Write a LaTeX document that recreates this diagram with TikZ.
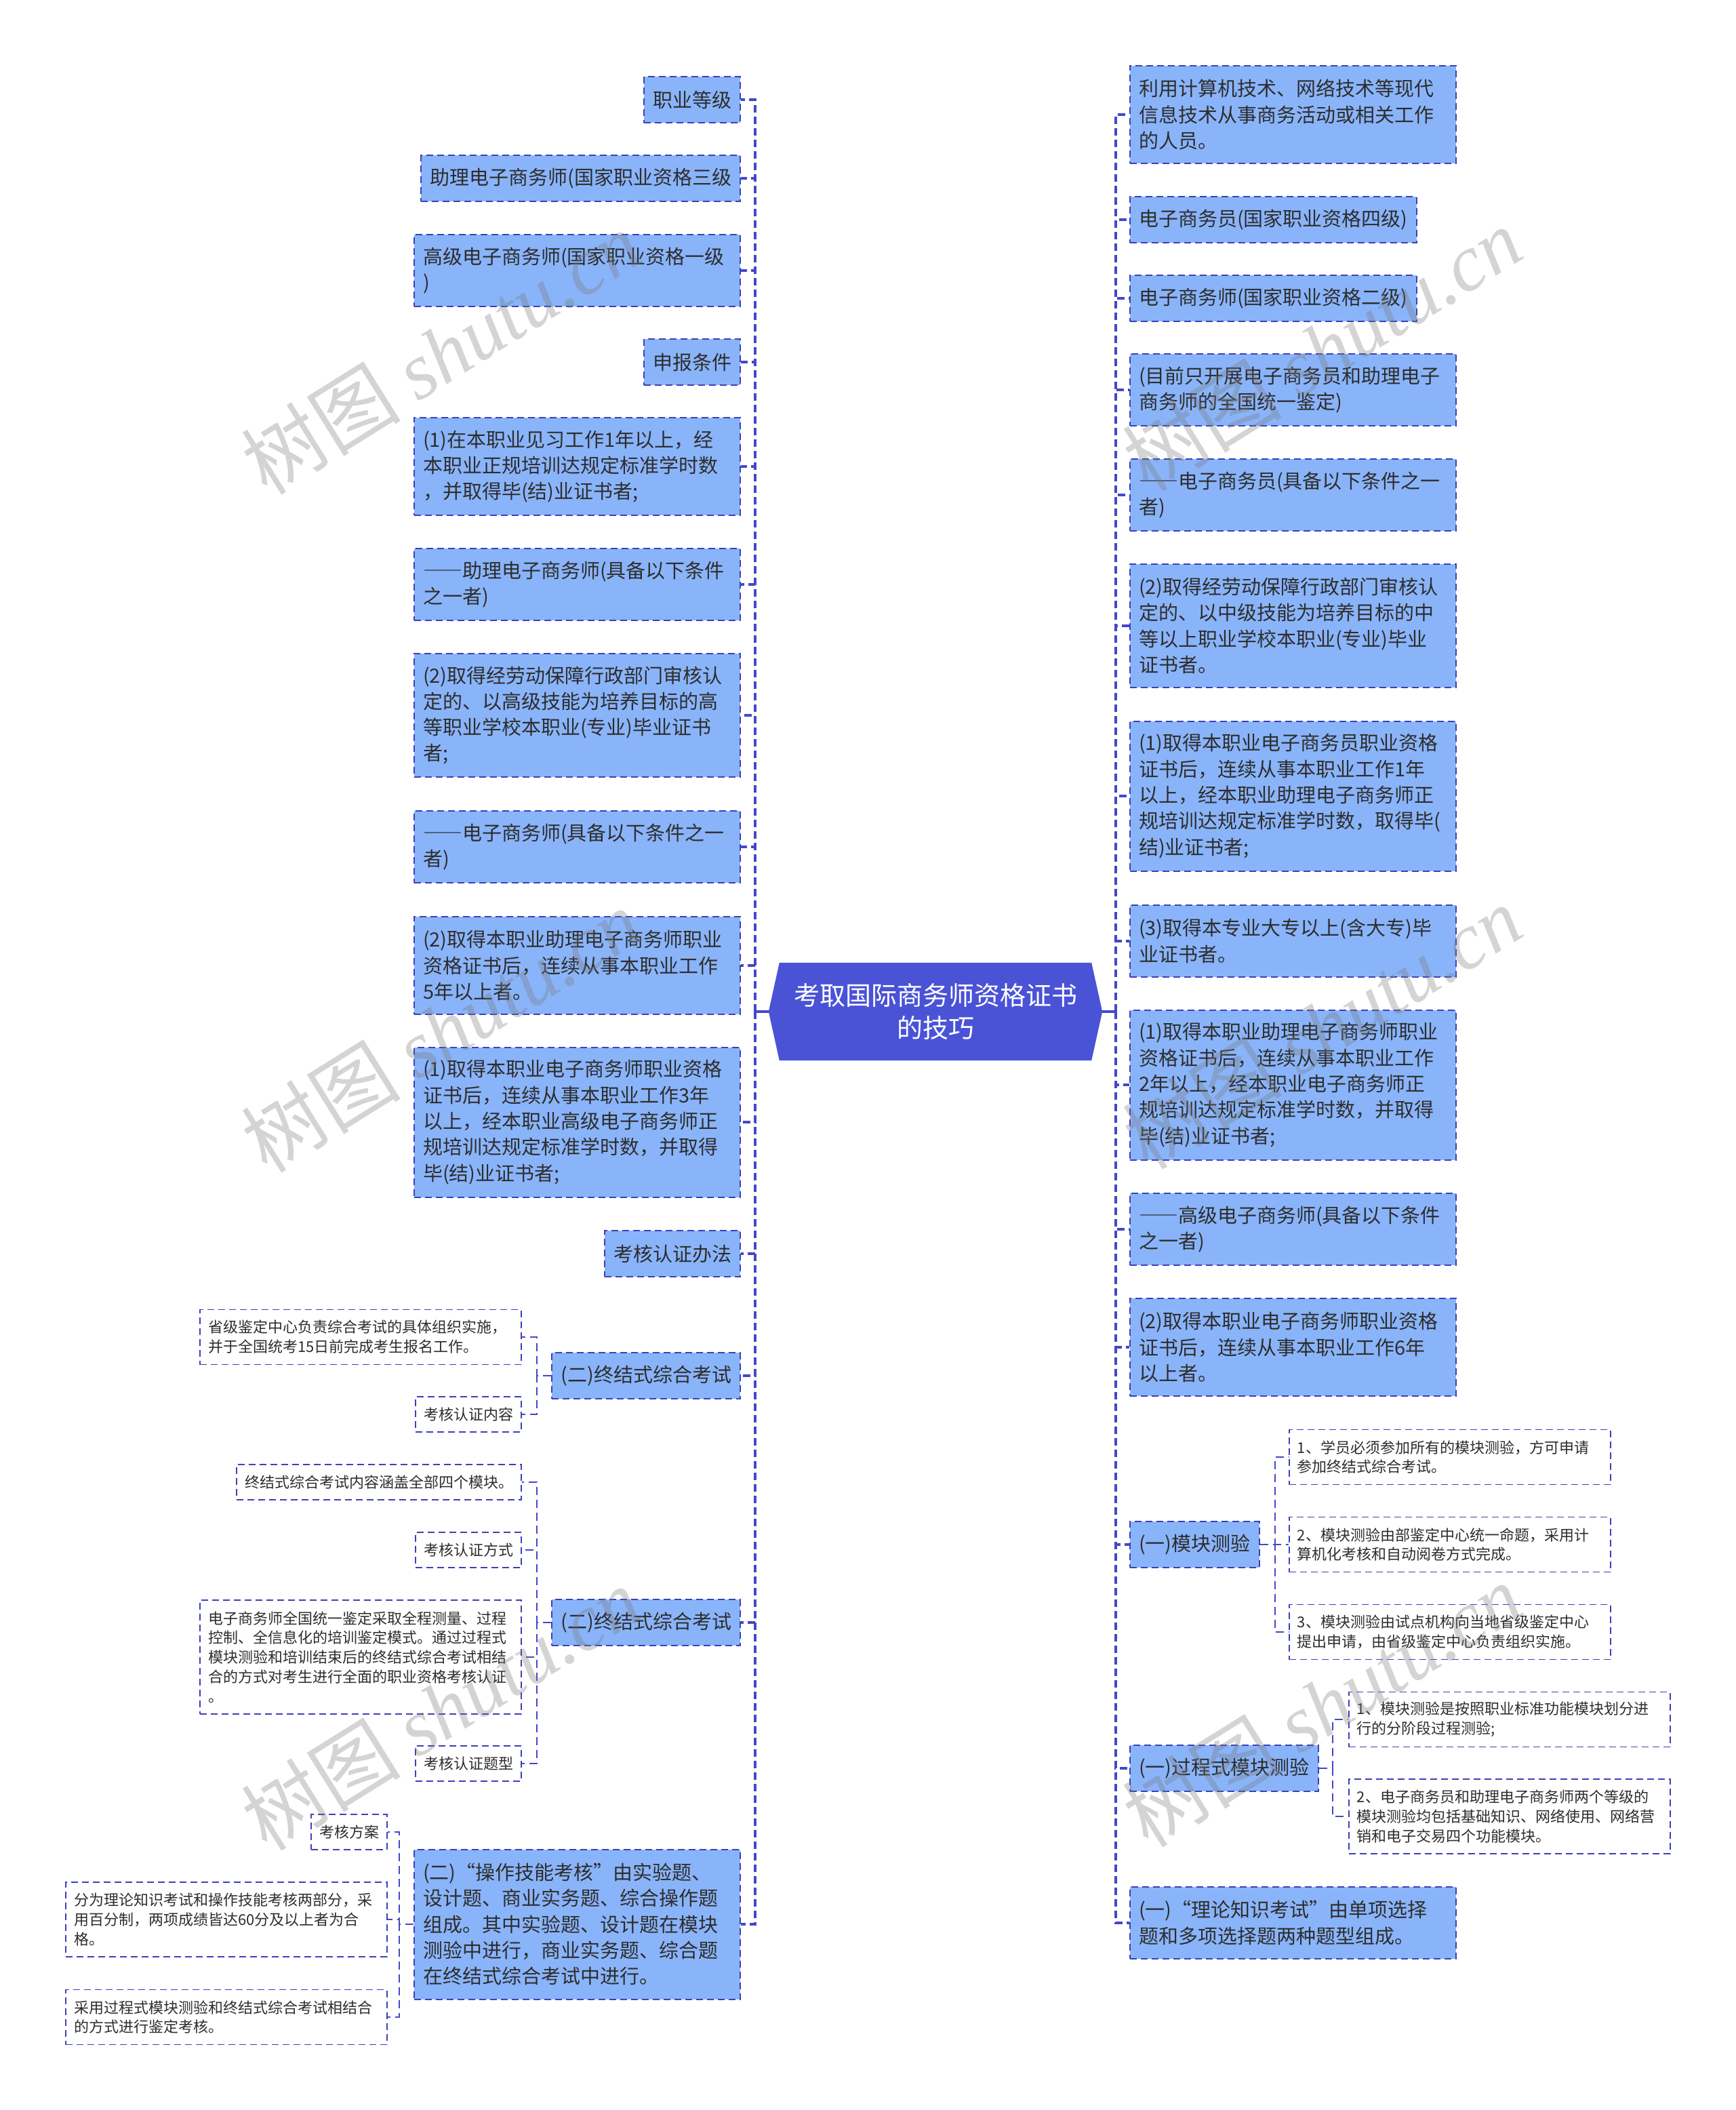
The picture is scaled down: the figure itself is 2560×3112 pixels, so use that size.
\documentclass[tikz,border=0pt]{standalone}
\usepackage{fontspec}
\setmainfont{Noto Sans CJK SC}
\newfontfamily\wmserif{Liberation Serif}
\newfontfamily\fwfont[RawFeature=+fwid]{Noto Sans CJK SC}
\newcommand\dd{{\fwfont ——}}
\usetikzlibrary{backgrounds}
\definecolor{boxfill}{HTML}{8AB4F9}
\definecolor{bordercol}{HTML}{3C40B8}
\definecolor{conncol}{HTML}{4348C9}
\definecolor{rootfill}{HTML}{4A53D6}
\definecolor{textcol}{HTML}{2D2D2D}
\definecolor{wmcol}{RGB}{120,120,120}
\begin{document}
\begin{tikzpicture}[x=1pt,y=-1pt,
  mainbox/.style={draw=bordercol, line width=2pt, dash pattern=on 10pt off 6pt, fill=boxfill, text=textcol,
    font=\fontsize{29pt}{38.3pt}\selectfont, inner xsep=13pt, inner ysep=0pt, align=left},
  nl/.style={minimum height={(29.5+38.3*#1)*1pt}},
  wide/.style={text width=455pt},
  subbox/.style={draw=bordercol, line width=1.8pt, dash pattern=on 10pt off 6pt, fill=white, text=textcol,
    font=\fontsize{22pt}{28.8pt}\selectfont, inner xsep=12pt, inner ysep=0pt, align=left},
  snl/.style={minimum height={(23+29*#1)*1pt}},
  swide/.style={text width=450pt},
  rootnode/.style={minimum width=460pt, minimum height=144pt, inner sep=0pt, text=white, align=center,
    font=\fontsize{38pt}{48pt}\selectfont},
  conn/.style={draw=conncol, line width=3.5pt, dash pattern=on 11pt off 6pt},
  rootconn/.style={draw=conncol, line width=3.5pt},
  subconn/.style={draw=conncol, line width=2pt, dash pattern=on 12pt off 7pt},
  wm/.style={text=wmcol, text opacity=0.32, font=\fontsize{118pt}{118pt}\selectfont, inner sep=0pt}
]
\useasboundingbox (0,0) rectangle (2560,3112);

% root
\node[rootnode] (root) at (1380,1492) {考取国际商务师资格证书\\的技巧};
\begin{scope}[on background layer]
\fill[rootfill] ([xshift=-16pt]root.west) -- (root.north west) -- (root.north east) -- ([xshift=16pt]root.east) -- (root.south east) -- (root.south west) -- cycle;
\end{scope}
\coordinate (rootL) at ([xshift=-16pt]root.west);
\coordinate (rootR) at ([xshift=16pt]root.east);
\coordinate (LS) at (1114,1492);
\coordinate (RS) at (1646,1492);

% left column
\node[mainbox, anchor=east, nl=1] (L1) at (1093,147) {职业等级};
\node[mainbox, anchor=east, nl=1] (L2) at (1093,263) {助理电子商务师(国家职业资格三级};
\node[mainbox, anchor=east, nl=2, wide] (L3) at (1093,399) {高级电子商务师(国家职业资格一级\\)};
\node[mainbox, anchor=east, nl=1] (L4) at (1093,534) {申报条件};
\node[mainbox, anchor=east, nl=3, wide] (L5) at (1093,688) {(1)在本职业见习工作1年以上，经\\本职业正规培训达规定标准学时数\\，并取得毕(结)业证书者;};
\node[mainbox, anchor=east, nl=2, wide] (L6) at (1093,862) {\dd 助理电子商务师(具备以下条件\\之一者)};
\node[mainbox, anchor=east, nl=4, wide] (L7) at (1093,1055) {(2)取得经劳动保障行政部门审核认\\定的、以高级技能为培养目标的高\\等职业学校本职业(专业)毕业证书\\者;};
\node[mainbox, anchor=east, nl=2, wide] (L8) at (1093,1249) {\dd 电子商务师(具备以下条件之一\\者)};
\node[mainbox, anchor=east, nl=3, wide] (L9) at (1093,1424) {(2)取得本职业助理电子商务师职业\\资格证书后，连续从事本职业工作\\5年以上者。};
\node[mainbox, anchor=east, nl=5, wide] (L10) at (1093,1655) {(1)取得本职业电子商务师职业资格\\证书后，连续从事本职业工作3年\\以上，经本职业高级电子商务师正\\规培训达规定标准学时数，并取得\\毕(结)业证书者;};
\node[mainbox, anchor=east, nl=1] (L11) at (1093,1849) {考核认证办法};
\node[mainbox, anchor=east, nl=1] (L12) at (1093,2029) {(二)终结式综合考试};
\node[mainbox, anchor=east, nl=1] (L13) at (1093,2393) {(二)终结式综合考试};
\node[mainbox, anchor=east, nl=5, wide] (L14) at (1093,2838) {(二)“操作技能考核”由实验题、\\设计题、商业实务题、综合操作题\\组成。其中实验题、设计题在模块\\测验中进行，商业实务题、综合题\\在终结式综合考试中进行。};

% right column
\node[mainbox, anchor=west, nl=3, wide] (R1) at (1666,169) {利用计算机技术、网络技术等现代\\信息技术从事商务活动或相关工作\\的人员。};
\node[mainbox, anchor=west, nl=1] (R2) at (1666,324) {电子商务员(国家职业资格四级)};
\node[mainbox, anchor=west, nl=1] (R3) at (1666,440) {电子商务师(国家职业资格二级)};
\node[mainbox, anchor=west, nl=2, wide] (R4) at (1666,575) {(目前只开展电子商务员和助理电子\\商务师的全国统一鉴定)};
\node[mainbox, anchor=west, nl=2, wide] (R5) at (1666,730) {\dd 电子商务员(具备以下条件之一\\者)};
\node[mainbox, anchor=west, nl=4, wide] (R6) at (1666,923) {(2)取得经劳动保障行政部门审核认\\定的、以中级技能为培养目标的中\\等以上职业学校本职业(专业)毕业\\证书者。};
\node[mainbox, anchor=west, nl=5, wide] (R7) at (1666,1174) {(1)取得本职业电子商务员职业资格\\证书后，连续从事本职业工作1年\\以上，经本职业助理电子商务师正\\规培训达规定标准学时数，取得毕(\\结)业证书者;};
\node[mainbox, anchor=west, nl=2, wide] (R8) at (1666,1388) {(3)取得本专业大专以上(含大专)毕\\业证书者。};
\node[mainbox, anchor=west, nl=5, wide] (R9) at (1666,1600) {(1)取得本职业助理电子商务师职业\\资格证书后，连续从事本职业工作\\2年以上，经本职业电子商务师正\\规培训达规定标准学时数，并取得\\毕(结)业证书者;};
\node[mainbox, anchor=west, nl=2, wide] (R10) at (1666,1813) {\dd 高级电子商务师(具备以下条件\\之一者)};
\node[mainbox, anchor=west, nl=3, wide] (R11) at (1666,1987) {(2)取得本职业电子商务师职业资格\\证书后，连续从事本职业工作6年\\以上者。};
\node[mainbox, anchor=west, nl=1] (R12) at (1666,2278) {(一)模块测验};
\node[mainbox, anchor=west, nl=1] (R13) at (1666,2608) {(一)过程式模块测验};
\node[mainbox, anchor=west, nl=2, wide] (R14) at (1666,2836) {(一)“理论知识考试”由单项选择\\题和多项选择题两种题型组成。};

% sub children left
\node[subbox, anchor=east, snl=2, swide] (A1) at (770,1972) {省级鉴定中心负责综合考试的具体组织实施，\\并于全国统考15日前完成考生报名工作。};
\node[subbox, anchor=east, snl=1] (A2) at (770,2086) {考核认证内容};
\node[subbox, anchor=east, snl=1] (B1) at (770,2186) {终结式综合考试内容涵盖全部四个模块。};
\node[subbox, anchor=east, snl=1] (B2) at (770,2286) {考核认证方式};
\node[subbox, anchor=east, snl=5, swide] (B3) at (770,2444) {电子商务师全国统一鉴定采取全程测量、过程\\控制、全信息化的培训鉴定模式。通过过程式\\模块测验和培训结束后的终结式综合考试相结\\合的方式对考生进行全面的职业资格考核认证\\。};
\node[subbox, anchor=east, snl=1] (B4) at (770,2601) {考核认证题型};
\node[subbox, anchor=east, snl=1] (C1) at (572,2702) {考核方案};
\node[subbox, anchor=east, snl=3, swide] (C2) at (572,2831) {分为理论知识考试和操作技能考核两部分，采\\用百分制，两项成绩皆达60分及以上者为合\\格。};
\node[subbox, anchor=east, snl=2, swide] (C3) at (572,2975) {采用过程式模块测验和终结式综合考试相结合\\的方式进行鉴定考核。};

% sub children right
\node[subbox, anchor=west, snl=2, swide] (D1) at (1901,2149) {1、学员必须参加所有的模块测验，方可申请\\参加终结式综合考试。};
\node[subbox, anchor=west, snl=2, swide] (D2) at (1901,2278) {2、模块测验由部鉴定中心统一命题，采用计\\算机化考核和自动阅卷方式完成。};
\node[subbox, anchor=west, snl=2, swide] (D3) at (1901,2407) {3、模块测验由试点机构向当地省级鉴定中心\\提出申请，由省级鉴定中心负责组织实施。};
\node[subbox, anchor=west, snl=2, swide] (E1) at (1989,2536) {1、模块测验是按照职业标准功能模块划分进\\行的分阶段过程测验;};
\node[subbox, anchor=west, snl=3, swide] (E2) at (1989,2679) {2、电子商务员和助理电子商务师两个等级的\\模块测验均包括基础知识、网络使用、网络营\\销和电子交易四个功能模块。};

% connectors
\draw[rootconn] (rootL) -- (LS);
\draw[rootconn] (rootR) -- (RS);
\foreach \n in {L1,L2,L3,L4,L5,L6,L7,L8,L9,L10,L11,L12,L13,L14}
  \draw[conn] (LS) |- (\n.east);
\foreach \n in {R1,R2,R3,R4,R5,R6,R7,R8,R9,R10,R11,R12,R13,R14}
  \draw[conn] (RS) |- (\n.west);
\foreach \c in {A1,A2}
  \draw[subconn] (L12.west) -- ++(-21,0) |- (\c.east);
\foreach \c in {B1,B2,B3,B4}
  \draw[subconn] (L13.west) -- ++(-21,0) |- (\c.east);
\foreach \c in {C1,C2,C3}
  \draw[subconn] (L14.west) -- ++(-21,0) |- (\c.east);
\foreach \c in {D1,D2,D3}
  \draw[subconn] (R12.east) -- ++(22,0) |- (\c.west);
\foreach \c in {E1,E2}
  \draw[subconn] (R13.east) -- ++(20,0) |- (\c.west);

% watermarks
\node[wm, rotate=32] (wm1) at (650,520) {树图 {\wmserif\itshape shutu.cn}};
\node[wm, rotate=32] (wm2) at (650,1520) {树图 {\wmserif\itshape shutu.cn}};
\node[wm, rotate=32] (wm3) at (650,2520) {树图 {\wmserif\itshape shutu.cn}};
\node[wm, rotate=32] (wm4) at (1950,515) {树图 {\wmserif\itshape shutu.cn}};
\node[wm, rotate=32] (wm5) at (1950,1515) {树图 {\wmserif\itshape shutu.cn}};
\node[wm, rotate=32] (wm6) at (1950,2515) {树图 {\wmserif\itshape shutu.cn}};
\end{tikzpicture}
\end{document}
